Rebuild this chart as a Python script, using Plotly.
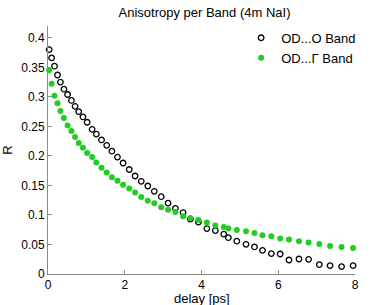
import plotly.graph_objects as go

delay_ps = [0.03, 0.094, 0.17, 0.247, 0.324, 0.415, 0.51, 0.61, 0.706, 0.80,
            0.91, 1.02, 1.15, 1.26, 1.395, 1.53, 1.666, 1.81, 1.957, 2.117,
            2.27, 2.43, 2.60, 2.77, 2.95, 3.13, 3.32, 3.52, 3.71, 3.92,
            4.14, 4.36, 4.58, 4.70, 4.92, 5.16, 5.38, 5.59, 5.82, 6.05,
            6.28, 6.54, 6.79, 7.07, 7.35, 7.65, 7.95]

r_o_band = [0.380, 0.366, 0.352, 0.337, 0.325, 0.313, 0.304, 0.294, 0.284, 0.275,
            0.266, 0.257, 0.245, 0.237, 0.227, 0.218, 0.208, 0.198, 0.188, 0.177,
            0.166, 0.157, 0.149, 0.140, 0.131, 0.120, 0.111, 0.104, 0.093, 0.088,
            0.077, 0.0736, 0.0675, 0.0615, 0.0556, 0.0503, 0.0458, 0.040, 0.0346, 0.0339,
            0.0237, 0.0254, 0.0249, 0.0159, 0.0142, 0.0125, 0.0142]

r_gamma_band = [0.345, 0.322, 0.302, 0.289, 0.276, 0.264, 0.2515, 0.242, 0.232, 0.222,
                0.2136, 0.205, 0.198, 0.189, 0.180, 0.172, 0.164, 0.158, 0.151, 0.145,
                0.138, 0.1305, 0.124, 0.120, 0.113, 0.109, 0.105, 0.098, 0.095, 0.0915,
                0.0872, 0.0820, 0.0797, 0.077, 0.0746, 0.0724, 0.0695, 0.0656, 0.0640, 0.060,
                0.0583, 0.0554, 0.0532, 0.0508, 0.0475, 0.0458, 0.0441]

x_ticks = [0, 2, 4, 6, 8]
y_ticks = [0, 0.05, 0.1, 0.15, 0.2, 0.25, 0.3, 0.35, 0.4]
y_tick_labels = ["0", "0.05", "0.1", "0.15", "0.2", "0.25", "0.3", "0.35", "0.4"]

font_family = "Liberation Sans, Arial, sans-serif"

fig = go.Figure()
fig.add_trace(go.Scatter(
    x=delay_ps, y=r_o_band, mode="markers", name="OD...O Band",
    marker=dict(symbol="circle-open", size=5.5, color="black", line=dict(width=1.3, color="black")),
    cliponaxis=False,
))
fig.add_trace(go.Scatter(
    x=delay_ps, y=r_gamma_band, mode="markers", name="OD...Γ Band",
    marker=dict(symbol="circle", size=6, color="#22cc22"),
    cliponaxis=False,
))

axis_common = dict(
    showgrid=False, zeroline=False, showline=True, linecolor="#8c8c8c", linewidth=1,
    ticks="inside", ticklen=4, tickcolor="#8c8c8c", automargin=False,
    tickfont=dict(family=font_family, size=12, color="black"),
)

fig.update_layout(
    width=370, height=305,
    margin=dict(l=48, r=9, t=26, b=31),
    paper_bgcolor="white", plot_bgcolor="white",
    font=dict(family=font_family, size=12, color="black"),
    title=dict(text="Anisotropy per Band (4m NaI)", x=0.5527, xanchor="center",
               y=0.96, yanchor="middle", font=dict(size=13, family=font_family),
               automargin=False),
    xaxis=dict(range=[0, 8], tickvals=x_ticks, ticktext=[str(v) for v in x_ticks],
               ticklabelstandoff=0, **axis_common),
    yaxis=dict(range=[0, 0.42], tickvals=y_ticks, ticktext=y_tick_labels,
               ticklabelstandoff=0,
               title=dict(text="R", standoff=6, font=dict(size=13)), **axis_common),
    legend=dict(x=1.02, y=1.013, xanchor="right", yanchor="top", bgcolor="rgba(0,0,0,0)",
                font=dict(size=13, family=font_family), itemwidth=30, tracegroupgap=0),
    showlegend=True,
    annotations=[dict(text="delay [ps]", xref="paper", yref="paper", x=0.5, y=-24.5 / 248,
                      xanchor="center", yanchor="middle", showarrow=False,
                      font=dict(size=13, family=font_family, color="black"))],
)

fig.write_html("out.html", config={"displayModeBar": False},
               post_script="document.body.style.margin='0';document.body.style.overflow='hidden';")
